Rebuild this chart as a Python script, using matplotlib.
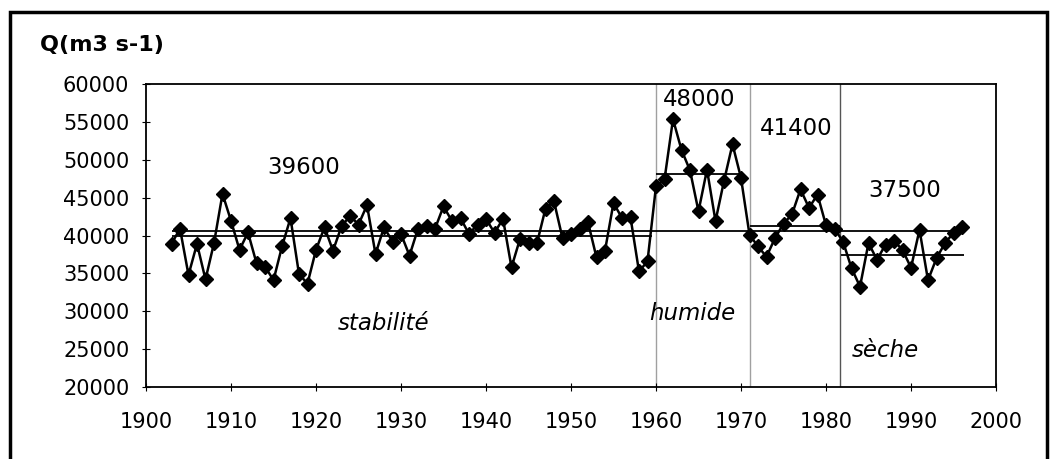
import matplotlib
matplotlib.use("Agg")
import matplotlib.pyplot as plt
from matplotlib.patches import Rectangle

plt.rcParams['font.family'] = ['DejaVu Sans']

# ---- data ----
years = list(range(1903, 1997))
flow = [38900, 40900, 34800, 38900, 34200, 39000, 45500, 41950, 38100, 40400,
        36350, 35900, 34100, 38550, 42300, 34900, 33650, 38100, 41100, 38000,
        41200, 42600, 41450, 44000, 37550, 41100, 39200, 40200, 37350, 40900,
        41200, 40900, 43850, 41900, 42300, 40200, 41450, 42200, 40350, 42200,
        35800, 39550, 39000, 39000, 43550, 44500, 39650, 40200, 40900, 41750,
        37100, 38000, 44300, 42300, 42400, 35250, 36600, 46500, 47400, 55350,
        51300, 48600, 43200, 48700, 41900, 47200, 52050, 47600, 40100, 38550,
        37200, 39650, 41550, 42800, 46100, 43650, 45400, 41350, 40900, 39200,
        35700, 33250, 39000, 36800, 38800, 39300, 38100, 35750, 40750, 34100,
        37000, 39000, 40350, 41100]

overall_mean = 40600
overall_span = (1903, 1996.3)
period_means = [39900, 48150, 41300, 37450]
period_spans = [(1903, 1959.5), (1960, 1970), (1971, 1981.7), (1981.8, 1996.2)]
period_labels = ["39600", "48000", "41400", "37500"]
regime_names = ["stabilité", "humide", "sèche"]
breaks = [1960, 1971, 1981.7]

xticks = list(range(1900, 2001, 10))
yticks = list(range(20000, 60001, 5000))

# ---- figure ----
fig = plt.figure(figsize=(10.58, 4.59), dpi=100)
ax = fig.add_axes([146/1058, 1-387/459, 850/1058, 303/459])

for b, col in zip(breaks, ["#a0a0a0", "#a0a0a0", "#555555"]):
    ax.axvline(b, color=col, lw=1.0, zorder=1)

ax.hlines(overall_mean, *overall_span, color="black", lw=1.3, zorder=2)
for m, (a, b) in zip(period_means, period_spans):
    ax.hlines(m, a, b, color="black", lw=1.3, zorder=2)

ax.plot(years, flow, color="black", lw=1.8, marker="D", markersize=7,
        markerfacecolor="black", markeredgecolor="black", zorder=3)

ax.set_xlim(1900, 2000)
ax.set_ylim(20000, 60000)
ax.set_xticks(xticks)
ax.set_yticks(yticks)
ax.tick_params(axis="both", direction="inout", length=6, width=0.8, labelsize=15)
ax.tick_params(axis="x", pad=15)
ax.tick_params(axis="y", pad=9)
for s in ax.spines.values():
    s.set_linewidth(1.3)

# labels
label_pos = [(1918.6, 48950), (1965.1, 58000), (1976.5, 54100), (1989.2, 45900)]
for (x, y), t in zip(label_pos, period_labels):
    ax.text(x, y, t, ha="center", va="center", fontsize=16.5)
regime_pos = [(1928, 28400), (1964.3, 29700), (1987, 24850)]
for (x, y), t in zip(regime_pos, regime_names):
    ax.text(x, y, t, ha="center", va="center", fontsize=16.5, style="italic")

fig.text(40/1058, 1-45/459, "Q(m3 s-1)", ha="left", va="center",
         fontsize=16, fontweight="bold")

# outer frame
fig.patches.append(Rectangle((10/1058, -0.05), (1047-10)/1058, 1-12/459 + 0.05,
                             transform=fig.transFigure, fill=False,
                             edgecolor="black", lw=2.5))

fig.savefig("out.png", dpi=100)
